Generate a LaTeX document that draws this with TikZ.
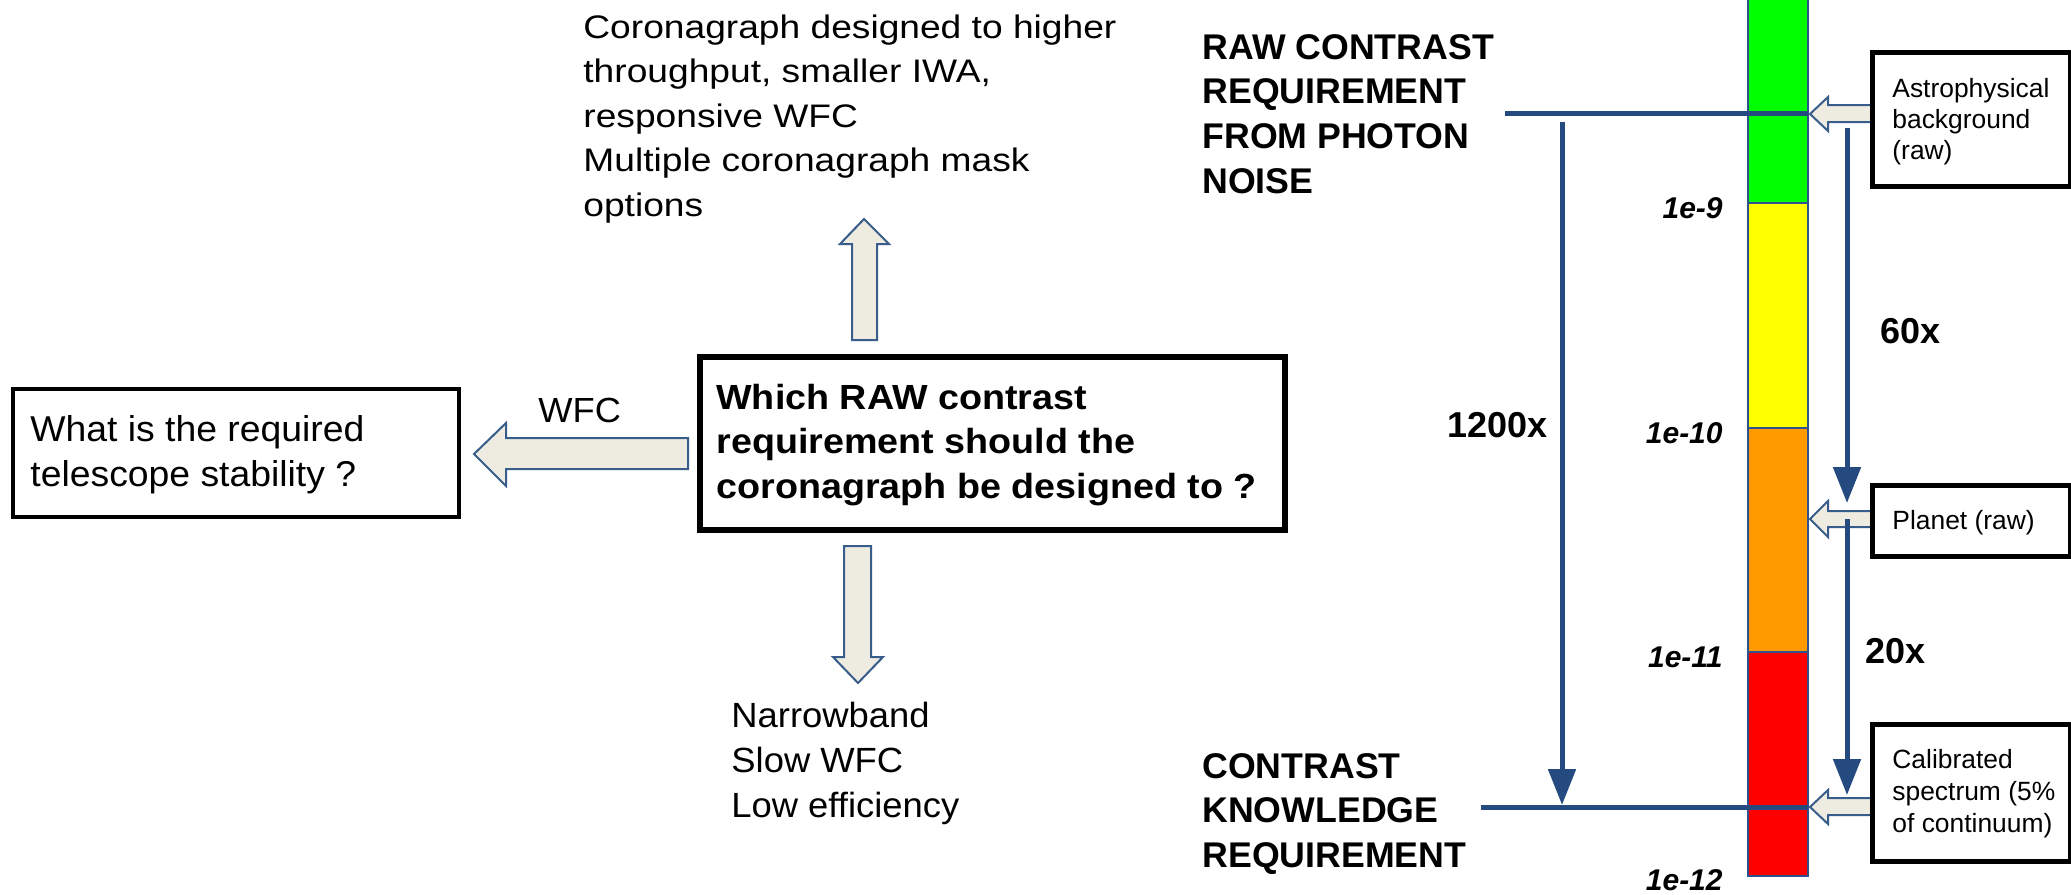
\documentclass[tikz,border=0pt]{standalone}
\usepackage{fontspec}
\setmainfont{Liberation Sans}
\newfontfamily\fTop[FakeStretch=1.14]{Liberation Sans}
\newfontfamily\fLeft[FakeStretch=1.04]{Liberation Sans}
\newfontfamily\fCen[FakeStretch=1.08]{Liberation Sans}
\usetikzlibrary{arrows.meta}

\definecolor{linkblue}{RGB}{36,74,128}
\definecolor{arrowedge}{RGB}{56,93,138}
\definecolor{arrowfill}{RGB}{238,236,225}
\definecolor{baredge}{RGB}{47,82,143}
\definecolor{bargreen}{RGB}{0,255,0}
\definecolor{baryellow}{RGB}{255,255,0}
\definecolor{barorange}{RGB}{255,153,0}
\definecolor{barred}{RGB}{255,0,0}

% left-aligned block of lines whose baseline is the first line's baseline
\newcommand\linesat[2]{\vtop{\baselineskip=#1\lineskiplimit=-100pt\halign{##\hfil\cr#2\crcr}}}

\begin{document}
\begin{tikzpicture}[x=0.5pt,y=-0.5pt,
  txt/.style={inner sep=0pt, anchor=base west},
  txtr/.style={inner sep=0pt, anchor=base east},
  blockarrow/.style={draw=arrowedge, fill=arrowfill, line width=1pt, line join=miter},
  link/.style={draw=linkblue, line width=2.5pt},
  linkarrow/.style={link, -{Triangle[length=18pt,width=13.5pt]}},
  barseg/.style={draw=baredge, line width=1pt},
  thickbox/.style={draw=black, line width=3pt},
  thinbox/.style={draw=black, line width=1.6pt},
  scalelabel/.style={txtr, font=\fontsize{15}{18}\selectfont\bfseries\itshape},
  factor/.style={font=\fontsize{18}{21}\selectfont\bfseries},
  sidebold/.style={txt, font=\fontsize{17.85}{21}\selectfont\bfseries},
  boxtext/.style={txt, font=\fontsize{13.2}{16}\selectfont},
]
\clip (0,0) rectangle (2071,894);
\fill[white] (0,0) rectangle (2071,894);

% ---------- contrast scale bar ----------
\fill[bargreen]  (1748,-10) rectangle (1808,203);
\fill[baryellow] (1748,203) rectangle (1808,428);
\fill[barorange] (1748,428) rectangle (1808,652);
\fill[barred]    (1748,652) rectangle (1808,876);
\draw[barseg] (1748,-10) rectangle (1808,203);
\draw[barseg] (1748,203) rectangle (1808,428);
\draw[barseg] (1748,428) rectangle (1808,652);
\draw[barseg] (1748,652) rectangle (1808,876);

\node[scalelabel] (l9)  at (1723,218) {1e-9};
\node[scalelabel] (l10) at (1723,443) {1e-10};
\node[scalelabel] (l11) at (1723,667) {1e-11};
\node[scalelabel] (l12) at (1723,890) {1e-12};

% ---------- requirement levels ----------
\node[sidebold] (rawreq) at (1202,59)
  {\linesat{22.35pt}{RAW CONTRAST\cr REQUIREMENT\cr FROM PHOTON\cr NOISE}};
\node[sidebold] (knowreq) at (1202,778)
  {\linesat{22.35pt}{CONTRAST\cr KNOWLEDGE\cr REQUIREMENT}};

\coordinate (rawL) at (1505,113);
\coordinate (rawR) at (1808,113);
\coordinate (knowL) at (1481,807);
\coordinate (knowR) at (1808,807);
\draw[link] (rawL) -- (rawR);
\draw[link] (knowL) -- (knowR);

\coordinate (bigtop) at (1562,122);
\coordinate (bigbot) at (1562,805);
\draw[linkarrow] (bigtop) -- (bigbot);
\node[factor, txtr] (f1200) at (1548,437) {1200x};

% ---------- source boxes ----------
\node[thinbox, minimum width=98pt, minimum height=66.35pt, inner sep=0pt] (astro) at (1971.25,119.65) {};
\node[thinbox, minimum width=98pt, minimum height=34.75pt, inner sep=0pt] (planet) at (1971.25,521.25) {};
\node[thinbox, minimum width=98pt, minimum height=67.75pt, inner sep=0pt] (calib) at (1971.25,793.25) {};

\node[boxtext] (astrotxt) at (1892,97) {\linesat{15.75pt}{Astrophysical\cr background\cr (raw)}};
\node[boxtext] (planettxt) at (1892,529) {Planet (raw)};
\node[boxtext] (calibtxt) at (1892,768) {\linesat{16pt}{Calibrated\cr spectrum (5\%\cr of continuum)}};

\draw[blockarrow] (1810,114) -- (1828,97) -- (1828,105) -- (astro.west |- 0,105)
  -- (astro.west |- 0,122) -- (1828,122) -- (1828,131) -- cycle;
\draw[blockarrow] (1810,519) -- (1828,501) -- (1828,511) -- (planet.west |- 0,511)
  -- (planet.west |- 0,527) -- (1828,527) -- (1828,537) -- cycle;
\draw[blockarrow] (1810,807) -- (1828,790) -- (1828,798) -- (calib.west |- 0,798)
  -- (calib.west |- 0,815) -- (1828,815) -- (1828,824) -- cycle;
\draw[thinbox] (astro.south west) rectangle (astro.north east);
\draw[thinbox] (planet.south west) rectangle (planet.north east);
\draw[thinbox] (calib.south west) rectangle (calib.north east);

\coordinate (s60top) at (1847,128);
\coordinate (s60bot) at (1847,503);
\coordinate (s20top) at (1847,519);
\coordinate (s20bot) at (1847,795);
\draw[linkarrow] (s60top) -- (s60bot);
\draw[linkarrow] (s20top) -- (s20bot);
\node[factor, txt] (f60) at (1880,343) {60x};
\node[factor, txt] (f20) at (1865,663) {20x};

% ---------- central question and its consequences ----------
\node[thickbox, minimum width=292.5pt, minimum height=86.5pt, inner sep=0pt] (question) at (992.5,443.5) {};
\node[txt, font=\fCen\fontsize{17.45}{21}\selectfont\bfseries] (questiontxt) at (716,409)
  {\linesat{22.25pt}{Which RAW contrast\cr requirement should the\cr coronagraph be designed to ?}};

\node[thinbox, minimum width=223pt, minimum height=64pt, inner sep=0pt] (stability) at (236,453) {};
\node[txt, font=\fLeft\fontsize{17.95}{21}\selectfont] (stabilitytxt) at (30,441)
  {\linesat{22.5pt}{What is the required\cr telescope stability ?}};

\node[txt, font=\fTop\fontsize{16.3}{20}\selectfont] (upside) at (583,38)
  {\linesat{22.3pt}{Coronagraph designed to higher\cr throughput, smaller IWA,\cr responsive WFC\cr Multiple coronagraph mask\cr options}};

\node[txt, font=\fLeft\fontsize{17.5}{21}\selectfont] (downside) at (731,727)
  {\linesat{22.5pt}{Narrowband\cr Slow WFC\cr Low efficiency}};

\node[txt, font=\fLeft\fontsize{17.45}{21}\selectfont] (wfc) at (538,422) {WFC};

% block arrows from the central question
\draw[blockarrow] (864,219) -- (889,244) -- (877,244) -- (877,340) -- (852,340)
  -- (852,244) -- (840,244) -- cycle;
\draw[blockarrow] (858,683) -- (883,657) -- (871,657) -- (871,546) -- (844,546)
  -- (844,657) -- (833,657) -- cycle;
\draw[blockarrow] (474,454) -- (506,423) -- (506,438) -- (688,438) -- (688,469)
  -- (506,469) -- (506,486) -- cycle;
\end{tikzpicture}
\end{document}
